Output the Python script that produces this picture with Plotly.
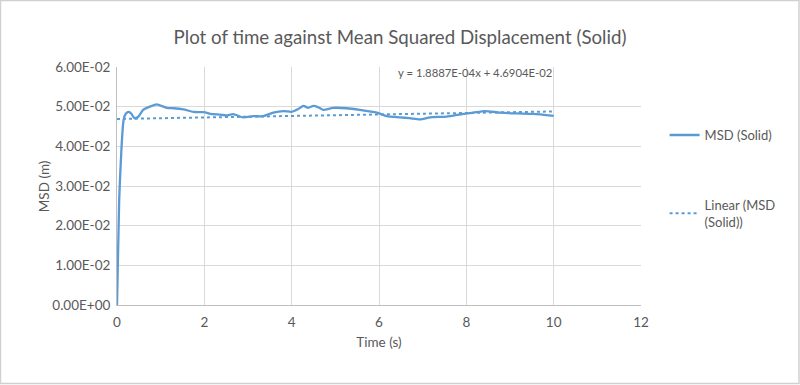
import plotly.graph_objects as go

# ---- data ----
time_s = [0, 0.05, 0.1, 0.15, 0.2, 0.27, 0.33, 0.4, 0.48, 0.6, 0.75, 0.91, 1.14, 1.3,
          1.52, 1.75, 1.98, 2.2, 2.35, 2.51, 2.66, 2.89, 3.12, 3.35, 3.58, 3.81, 4.0,
          4.15, 4.27, 4.38, 4.5, 4.6, 4.72, 4.95, 5.26, 5.56, 5.95, 6.18, 6.48, 6.7,
          6.94, 7.17, 7.55, 7.93, 8.16, 8.43, 8.77, 9.15, 9.53, 10.0]
msd_m = [0, 0.0265, 0.039, 0.0466, 0.0482, 0.0487, 0.0482, 0.0471, 0.0474, 0.0492,
         0.0500, 0.0506, 0.0497, 0.0496, 0.0493, 0.0487, 0.0486, 0.0481, 0.0480,
         0.0478, 0.0481, 0.0473, 0.0476, 0.0476, 0.0485, 0.0489, 0.0487, 0.0494,
         0.0502, 0.0497, 0.0502, 0.0499, 0.0492, 0.0497, 0.0496, 0.0492, 0.0485,
         0.0476, 0.0473, 0.0471, 0.0468, 0.0473, 0.0475, 0.0482, 0.0485, 0.0489,
         0.0485, 0.0483, 0.0482, 0.0477]

trend_slope = 1.8887e-04
trend_intercept = 4.6904e-02
trend_x = [0, 10]
trend_y = [trend_intercept + trend_slope * x for x in trend_x]
trend_label = "y = 1.8887E-04x + 4.6904E-02"

y_tickvals = [0, 0.01, 0.02, 0.03, 0.04, 0.05, 0.06]
y_ticktext = ["0.00E+00", "1.00E-02", "2.00E-02", "3.00E-02", "4.00E-02", "5.00E-02", "6.00E-02"]
x_tickvals = [0, 2, 4, 6, 8, 10, 12]

BLUE = "#5B9BD5"
GREY = "#595959"
FONT = "Lato"

fig = go.Figure()
fig.add_trace(go.Scatter(
    x=time_s, y=msd_m, mode="lines", name="MSD (Solid)",
    line=dict(color=BLUE, width=2.3, shape="spline", smoothing=0.6),
    legend="legend", showlegend=True))
fig.add_trace(go.Scatter(
    x=trend_x, y=trend_y, mode="lines", name="Linear (MSD<br>(Solid))",
    line=dict(color=BLUE, width=2, dash="dot"),
    legend="legend2", showlegend=True))

fig.add_annotation(x=10, y=0.0585, xref="x", yref="y", text=trend_label,
                   showarrow=False, xanchor="right", yanchor="middle",
                   font=dict(family=FONT, size=11.3, color=GREY))

# y-axis title as a rotated annotation
fig.add_annotation(x=-0.139, y=0.5, xref="paper", yref="paper", text="MSD (m)",
                   showarrow=False, textangle=-90, xanchor="center", yanchor="middle",
                   font=dict(family=FONT, size=13.5, color=GREY))

# outer frame
fig.add_shape(type="rect", xref="paper", yref="paper",
              x0=-0.2224, x1=1.3015, y0=-0.3298, y1=1.2794,
              line=dict(color="#D0D0D0", width=1.5), fillcolor="rgba(0,0,0,0)")

fig.update_layout(
    width=800, height=385,
    margin=dict(l=117, r=159, t=67, b=80, autoexpand=False),
    paper_bgcolor="white", plot_bgcolor="white",
    showlegend=True,
    font=dict(family=FONT, color=GREY, size=12),
    title=dict(text="Plot of time against Mean Squared Displacement (Solid)",
               x=0.5, xref="container", xanchor="center", y=0.904, yref="container",
               yanchor="middle", font=dict(family=FONT, size=18.7, color=GREY)),
    xaxis=dict(range=[0, 12], tickvals=x_tickvals, showgrid=True,
               gridcolor="#D9D9D9", gridwidth=1, zeroline=False,
               showline=True, linecolor="#BFBFBF", linewidth=1, mirror=False,
               ticks="outside", ticklen=5, tickcolor="rgba(0,0,0,0)",
               automargin=False,
               tickfont=dict(family=FONT, size=13.5, color=GREY),
               title=dict(text="Time (s)", font=dict(family=FONT, size=13.5, color=GREY),
                          standoff=8)),
    yaxis=dict(range=[0, 0.06], tickvals=y_tickvals, ticktext=y_ticktext,
               showgrid=True, gridcolor="#D9D9D9", gridwidth=1, zeroline=False,
               showline=True, linecolor="#BFBFBF", linewidth=1,
               ticks="outside", ticklen=3, tickcolor="rgba(0,0,0,0)",
               automargin=False,
               tickfont=dict(family=FONT, size=13.5, color=GREY)),
    legend=dict(x=1.045, y=0.714, xanchor="left", yanchor="middle",
                font=dict(family=FONT, size=13, color=GREY), bgcolor="rgba(0,0,0,0)"),
    legend2=dict(x=1.045, y=0.385, xanchor="left", yanchor="middle",
                 font=dict(family=FONT, size=13, color=GREY), bgcolor="rgba(0,0,0,0)"),
)

fig.write_html("out.html", config={"displayModeBar": False},
               post_script="document.body.style.margin='0';")
